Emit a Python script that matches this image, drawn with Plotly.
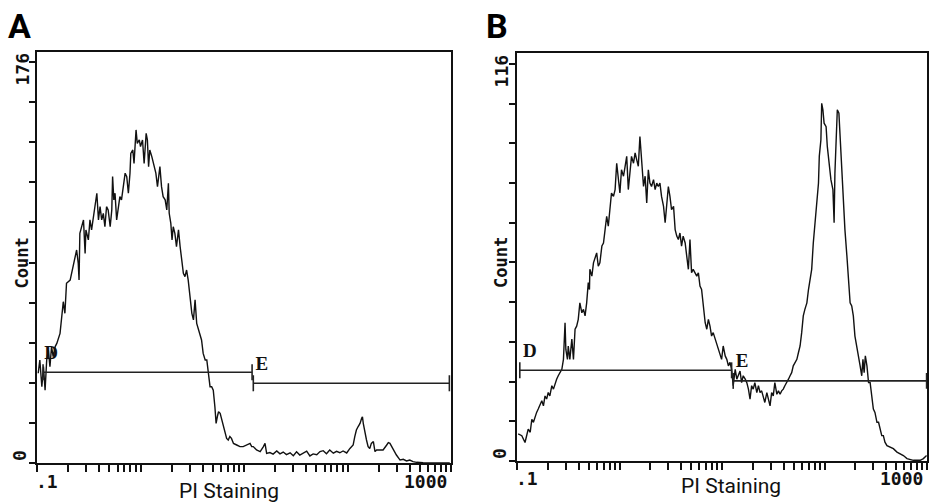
import math
import plotly.graph_objects as go

# ---------------- data (channels 0..1023 span 4 log decades, 0.1 .. 1000) ----------------
a_channel = [3, 7, 12, 16, 20, 24, 28, 32, 36, 40, 45, 49, 57, 61, 65, 69, 73, 82, 86, 90,
             98, 102, 104, 106, 110, 115, 119, 121, 127, 131, 135, 139, 148, 152, 156, 160, 164, 168, 172, 176,
             181, 185, 187, 190, 193, 197, 201, 205, 209, 214, 218, 222, 226, 230, 232, 237, 240, 245, 248, 253,
             256, 261, 265, 270, 273, 276, 279, 284, 289, 294, 298, 300, 304, 308, 312, 317, 321, 325, 327, 331,
             334, 337, 341, 345, 350, 354, 358, 362, 366, 370, 374, 378, 383, 387, 391, 395, 403, 407, 411, 416,
             420, 424, 428, 432, 436, 440, 443, 446, 449, 453, 457, 461, 465, 469, 473, 477, 481, 486, 494, 502,
             510, 519, 527, 531, 535, 543, 552, 560, 564, 568, 576, 584, 593, 601, 609, 617, 626, 634, 642, 650,
             659, 667, 675, 683, 692, 700, 708, 716, 724, 733, 741, 749, 757, 766, 774, 782, 786, 790, 794, 799,
             803, 805, 807, 811, 815, 819, 823, 827, 832, 836, 840, 848, 856, 865, 869, 873, 877, 881, 889, 898,
             906, 914, 922, 930, 939, 955, 972, 1005, 1021]
a_count = [39.4, 45.2, 33.5, 42.3, 32.0, 45.2, 49.6, 42.3, 51.1, 46.7, 51.1, 52.5, 56.9, 62.8, 70.8, 65.7, 78.9, 80.3, 83.3, 87.7,
           93.5, 87.7, 80.3, 100.8, 103.7, 106.7, 92.0, 102.3, 97.9, 106.7, 102.3, 106.7, 118.4, 106.7, 112.5, 106.7, 109.6, 103.7, 112.5, 111.1,
           103.7, 111.1, 125.7, 115.5, 118.4, 106.7, 112.5, 116.9, 115.5, 121.3, 127.2, 125.7, 118.4, 127.2, 135.9, 137.4, 131.5, 146.2, 140.3, 141.8,
           138.9, 141.8, 131.5, 144.7, 141.8, 130.1, 137.4, 134.5, 130.1, 127.2, 121.3, 124.2, 130.1, 121.3, 116.9, 115.5, 111.1, 122.8, 109.6, 105.2,
           97.9, 103.7, 100.8, 95.0, 102.3, 95.0, 89.1, 83.3, 81.8, 84.7, 80.3, 73.0, 65.7, 62.8, 71.6, 61.3, 56.9, 54.0, 48.1, 45.2,
           45.2, 39.4, 33.5, 33.5, 32.0, 24.7, 17.4, 20.3, 22.5, 21.8, 18.9, 15.9, 13.0, 10.8, 10.1, 11.6, 10.8, 8.6, 7.9, 7.2,
           7.2, 7.9, 8.6, 7.2, 7.2, 5.7, 5.0, 7.2, 8.6, 4.2, 4.6, 3.9, 5.3, 4.0, 4.8, 3.7, 4.5, 3.2, 4.9, 3.5,
           4.4, 5.2, 3.1, 4.0, 3.6, 5.0, 5.4, 4.1, 5.7, 4.3, 5.1, 4.5, 5.3, 4.4, 6.4, 7.9, 11.6, 14.5, 15.9, 17.4,
           19.6, 20.3, 17.4, 13.0, 10.1, 7.2, 6.4, 8.6, 9.4, 5.0, 5.7, 5.7, 5.7, 7.9, 8.9, 8.6, 7.2, 5.7, 3.5, 1.3,
           1.6, 0.9, 1.3, 0.6, 0.3, 0.1, 0.0, 0.0, 0.0]

b_channel = [3, 12, 20, 24, 28, 33, 37, 41, 45, 49, 53, 57, 62, 66, 70, 74, 78, 82, 87, 91,
             95, 99, 103, 107, 112, 116, 120, 122, 126, 128, 132, 137, 141, 145, 149, 153, 157, 162, 166, 170,
             174, 178, 181, 182, 187, 191, 195, 199, 203, 207, 212, 216, 220, 224, 228, 232, 236, 241, 245, 249,
             253, 257, 261, 266, 270, 274, 278, 282, 286, 291, 295, 299, 303, 307, 311, 316, 320, 324, 328, 332,
             336, 341, 345, 349, 353, 357, 361, 366, 370, 374, 378, 382, 386, 391, 395, 399, 403, 407, 411, 415,
             420, 424, 428, 432, 436, 440, 445, 449, 453, 457, 461, 465, 470, 474, 478, 482, 486, 490, 495, 499,
             503, 507, 511, 515, 520, 524, 528, 532, 536, 540, 545, 549, 553, 557, 561, 565, 570, 574, 578, 582,
             586, 590, 594, 599, 603, 607, 611, 615, 619, 624, 628, 632, 636, 640, 644, 649, 653, 657, 661, 665,
             669, 674, 678, 682, 686, 690, 694, 699, 703, 707, 711, 715, 719, 724, 728, 732, 736, 740, 744, 749,
             753, 755, 759, 761, 764, 767, 772, 775, 780, 784, 789, 790, 792, 794, 797, 800, 804, 807, 811, 815,
             819, 824, 828, 832, 836, 840, 844, 849, 853, 857, 861, 864, 867, 870, 874, 878, 882, 886, 890, 894,
             899, 903, 907, 911, 915, 919, 924, 932, 940, 949, 957, 965, 974, 982, 990, 1007, 1015, 1023]
b_count = [7.9, 7.4, 5.4, 7.4, 9.3, 8.4, 12.2, 11.3, 13.2, 14.2, 15.2, 16.1, 17.6, 16.1, 19.0, 18.1, 20.0, 19.0, 22.0, 21.0,
           22.9, 23.9, 24.9, 25.8, 26.8, 29.7, 40.4, 32.6, 29.7, 33.6, 29.7, 35.6, 29.7, 38.5, 39.4, 41.4, 46.2, 43.3, 44.3, 42.4,
           46.2, 52.1, 50.1, 56.0, 54.0, 57.9, 59.8, 60.8, 56.9, 57.9, 62.8, 63.7, 67.6, 71.5, 68.6, 73.4, 78.3, 77.3, 79.3, 87.0,
           83.2, 78.3, 85.1, 83.2, 86.1, 89.0, 79.3, 84.1, 89.0, 87.0, 90.0, 88.0, 86.1, 94.8, 87.0, 80.2, 83.2, 75.4, 85.1, 81.2,
           80.2, 82.2, 79.3, 81.2, 80.2, 81.2, 77.3, 74.4, 69.6, 76.4, 80.2, 77.3, 73.4, 74.4, 67.6, 65.7, 64.7, 66.6, 62.8, 65.7,
           63.7, 59.8, 56.0, 64.7, 55.0, 56.0, 55.0, 54.0, 55.0, 51.1, 50.1, 46.2, 40.4, 38.5, 41.4, 39.4, 36.5, 37.5, 35.6, 34.6,
           32.6, 31.7, 29.7, 33.6, 30.7, 29.7, 27.8, 28.8, 26.8, 22.0, 26.8, 23.9, 24.9, 26.3, 22.9, 24.9, 23.9, 22.9, 21.0, 18.1,
           22.0, 21.0, 22.9, 20.0, 22.0, 20.0, 20.5, 19.0, 17.1, 20.0, 18.1, 16.1, 20.0, 19.0, 22.9, 19.5, 20.5, 19.5, 20.5, 21.0,
           22.0, 22.9, 23.9, 24.9, 25.8, 27.8, 28.8, 29.7, 31.7, 33.6, 37.5, 42.4, 44.3, 46.2, 50.1, 53.0, 56.0, 63.7, 69.6, 76.4,
           81.2, 89.0, 93.8, 104.5, 102.6, 98.7, 97.7, 91.9, 87.0, 82.2, 79.3, 76.4, 69.6, 84.1, 92.9, 102.6, 101.6, 93.8, 84.1, 75.4,
           67.6, 59.8, 54.0, 46.2, 45.3, 42.4, 36.5, 32.6, 29.7, 27.8, 24.9, 29.7, 25.8, 30.7, 27.8, 22.9, 22.9, 19.0, 15.2, 14.2,
           11.3, 11.3, 9.3, 7.4, 7.4, 5.5, 4.5, 4.1, 3.6, 2.6, 2.1, 1.6, 0.7, 0.5, 0.2, 0.2, 0.7, 1.6]

panel_labels = ["A", "B"]
y_max = [176, 116]
x_tick_labels = [".1", "1000"]
x_title = "PI Staining"
y_title = "Count"

gate_names = ["D", "E"]
a_gate_channels = [[15, 532], [535, 1020]]
a_gate_levels = [39.8, 35.0]
a_gate_label_pos = [[35, 47.8], [556, 43.0]]
b_gate_channels = [[7, 536], [540, 1023]]
b_gate_levels = [26.5, 23.4]
b_gate_label_pos = [[32, 31.8], [562, 28.9]]


def ch2val(ch):
    return 0.1 * 10 ** (ch / 256.0)


W, H = 929, 503
fig = go.Figure()

panels = [
    dict(ch=a_channel, cnt=a_count, gates=a_gate_channels, levels=a_gate_levels,
         lpos=a_gate_label_pos, ymax=y_max[0], yextra=180.4 / 176,
         dom_x=[37 / W, 451 / W], dom_y=[1 - 463 / H, 1 - 52 / H]),
    dict(ch=b_channel, cnt=b_count, gates=b_gate_channels, levels=b_gate_levels,
         lpos=b_gate_label_pos, ymax=y_max[1], yextra=119.2 / 116,
         dom_x=[517 / W, 927 / W], dom_y=[1 - 461 / H, 1 - 53 / H]),
]

mono = "DejaVu Sans Mono"
annotations = []
minor_vals = [m * 10 ** k for k in range(-1, 3) for m in range(1, 10)] + [1000]

for i, p in enumerate(panels):
    xa = "x" if i == 0 else "x2"
    ya = "y" if i == 0 else "y2"
    top = p["ymax"] * p["yextra"]
    # histogram
    fig.add_trace(go.Scatter(x=[ch2val(c) for c in p["ch"]], y=p["cnt"], mode="lines",
                             line=dict(color="#111", width=1.4), xaxis=xa, yaxis=ya,
                             showlegend=False, hoverinfo="skip"))
    # gate markers
    cap = 0.0195 * top
    gx, gy = [], []
    for (c0, c1), lev in zip(p["gates"], p["levels"]):
        x0, x1 = ch2val(c0), ch2val(c1)
        gx += [x0, x0, None, x0, x1, None, x1, x1, None]
        gy += [lev - cap, lev + cap, None, lev, lev, None, lev - cap, lev + cap, None]
    fig.add_trace(go.Scatter(x=gx, y=gy, mode="lines", line=dict(color="#222", width=1.6),
                             xaxis=xa, yaxis=ya, showlegend=False, hoverinfo="skip"))
    fig.add_trace(go.Scatter(x=[ch2val(c) for c, _ in p["lpos"]], y=[v for _, v in p["lpos"]],
                             mode="text", text=["<b>%s</b>" % g for g in gate_names],
                             textfont=dict(family="Liberation Serif", size=19, color="#111"),
                             xaxis=xa, yaxis=ya, showlegend=False, hoverinfo="skip"))

    step = p["ymax"] / 10
    xkey = "xaxis" if i == 0 else "xaxis2"
    ykey = "yaxis" if i == 0 else "yaxis2"
    fig.update_layout(**{
        xkey: dict(type="log", range=[-1, 3], domain=p["dom_x"], anchor=ya,
                   tickvals=minor_vals, ticks="outside", ticklen=7, tickwidth=1.5,
                   tickcolor="#111", showticklabels=False, showgrid=False, zeroline=False,
                   showline=True, linecolor="#111", linewidth=2, mirror=True),
        ykey: dict(range=[0, top], domain=p["dom_y"], anchor=xa,
                   tickvals=[step * k for k in range(11)], ticks="outside", ticklen=6,
                   tickwidth=1.5, tickcolor="#111", showticklabels=False, showgrid=False,
                   zeroline=False, showline=True, linecolor="#111", linewidth=2, mirror=True),
    })

# text labels
tickfont = dict(family=mono, size=18, color="#111")
lab_x = [[22.5, 19, 21.5], [501.5, 499, 501]]
for i, p in enumerate(panels):
    xa = "x" if i == 0 else "x2"
    ya = "y" if i == 0 else "y2"
    annotations += [
        dict(text="<b>%d</b>" % p["ymax"], xref="paper", x=lab_x[i][0] / W, yref=ya, y=p["ymax"],
             yshift=-7, textangle=-90, showarrow=False, font=tickfont,
             xanchor="center", yanchor="middle"),
        dict(text="<b>0</b>", xref="paper", x=lab_x[i][1] / W, yref=ya, y=0, yshift=7,
             textangle=-90, showarrow=False, font=tickfont, xanchor="center", yanchor="middle"),
        dict(text="<b>%s</b>" % y_title, xref="paper", x=lab_x[i][2] / W, yref="paper",
             y=1 - 263 / H, textangle=-90, showarrow=False, font=dict(family=mono, size=17, color="#111"),
             xanchor="center", yanchor="middle"),
        dict(text="<b>%s</b>" % x_tick_labels[0], xref=xa, x=-1, xanchor="left", xshift=-3,
             yref="paper", y=1 - (481 if i == 0 else 478) / H, yanchor="middle",
             showarrow=False, font=tickfont),
        dict(text="<b>%s</b>" % x_tick_labels[1], xref=xa, x=3, xanchor="right", xshift=-2,
             yref="paper", y=1 - (481 if i == 0 else 478) / H, yanchor="middle",
             showarrow=False, font=tickfont),
        dict(text=x_title, xref="paper", x=(229 if i == 0 else 731) / W, xanchor="center",
             yref="paper", y=1 - (491 if i == 0 else 486) / H, yanchor="middle",
             showarrow=False, font=dict(family="Roboto", size=21, color="#111")),
        dict(text="<b>%s</b>" % panel_labels[i], xref="paper", x=(19 if i == 0 else 497) / W,
             xanchor="center", yref="paper", y=1 - 26 / H, yanchor="middle", showarrow=False,
             font=dict(family="Roboto", size=34, color="#000")),
    ]

fig.update_layout(width=W, height=H, margin=dict(l=0, r=0, t=0, b=0),
                  paper_bgcolor="white", plot_bgcolor="white", annotations=annotations)

fig.write_html("out.html", config={"displayModeBar": False},
               post_script="document.body.style.margin='0';document.body.style.overflow='hidden';")
